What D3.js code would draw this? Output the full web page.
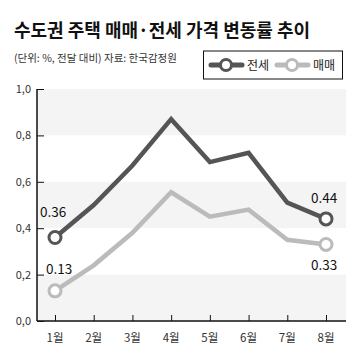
<!DOCTYPE html>
<html><head><meta charset="utf-8">
<script src="https://cdn.jsdelivr.net/npm/d3@7"></script>
<style>body{margin:0;background:#fff;}svg{display:block;font-family:"Noto Sans CJK KR","Noto Sans",sans-serif;}</style>
</head><body>
<script>
const months = ["1월","2월","3월","4월","5월","6월","7월","8월"];
const jeonse = [0.36,0.50,0.67,0.87,0.685,0.725,0.51,0.44];
const maemae = [0.13,0.24,0.38,0.555,0.45,0.48,0.35,0.33];
const yTicks = [0,0.2,0.4,0.6,0.8,1.0];
const yTickLabels = ["0,0","0,2","0,4","0,6","0,8","1,0"];
const title = "수도권 주택 매매·전세 가격 변동률 추이";
const subtitle = "(단위: %, 전달 대비) 자료: 한국감정원";

(function(){
const W=356,H=360;
const svg=d3.select("body").append("svg").attr("width",W).attr("height",H);
const pL=37,pR=346,pT=89,pB=321;
const x=d3.scalePoint().domain(months).range([55,326]);
const y=d3.scaleLinear().domain([0,1]).range([pB,pT]);

svg.append("text").attr("x",14).attr("y",37).attr("font-size",18).attr("font-weight","bold").attr("fill","#111").text(title);
svg.append("text").attr("x",14).attr("y",62).attr("font-size",10.5).attr("fill","#333").text(subtitle);

// bands
[[0,0.2],[0.4,0.6],[0.8,1.0]].forEach(b=>{
  svg.append("rect").attr("x",pL).attr("y",y(b[1])).attr("width",pR-pL).attr("height",y(b[0])-y(b[1])).attr("fill","#f4f4f4");
});

// y axis
const ya=svg.append("g").attr("transform",`translate(${pL},0)`)
  .call(d3.axisRight(y).tickValues(yTicks).tickSize(7).tickFormat(()=>""));
ya.select(".domain").attr("stroke","#111").attr("stroke-width",1.5).attr("d",`M0,${pT}V${pB}`);
ya.selectAll(".tick line").attr("stroke","#111").attr("stroke-width",1);
yTicks.forEach((t,i)=>{
  svg.append("text").attr("x",31).attr("y",y(t)+4).attr("text-anchor","end").attr("font-size",11).attr("fill","#333").text(yTickLabels[i]);
});

// x axis
const xa=svg.append("g").attr("transform",`translate(0,${pB})`)
  .call(d3.axisTop(x).tickSize(6).tickFormat(()=>""));
xa.select(".domain").attr("stroke","#111").attr("stroke-width",1.5).attr("d",`M${pL},0H${pR}`);
xa.selectAll(".tick line").attr("stroke","#111");
months.forEach(m=>{
  svg.append("text").attr("x",x(m)).attr("y",342).attr("text-anchor","middle").attr("font-size",11.5).attr("fill","#333").text(m);
});

const line=d3.line().x((d,i)=>x(months[i])).y(d=>y(d));
function series(vals,color){
  svg.append("path").datum(vals).attr("d",line).attr("fill","none").attr("stroke",color).attr("stroke-width",4.5).attr("stroke-linejoin","miter");
  [0,vals.length-1].forEach(i=>{
    svg.append("circle").attr("cx",x(months[i])).attr("cy",y(vals[i])).attr("r",6).attr("fill","#fff").attr("stroke",color).attr("stroke-width",3);
  });
}
series(maemae,"#bbbbbb");
series(jeonse,"#555555");

// value labels
const lab=(t,xx,yy)=>svg.append("text").attr("x",xx).attr("y",yy).attr("font-size",13.5).attr("fill","#111").text(t);
lab(jeonse[0].toFixed(2),40,217);
lab(maemae[0].toFixed(2),46,274);
lab(jeonse[7].toFixed(2),311,203);
lab(maemae[7].toFixed(2),311,270);

// legend
svg.append("rect").attr("x",203.5).attr("y",51).attr("width",139).attr("height",28).attr("fill","#fff").attr("stroke","#111").attr("stroke-width",1);
function legendItem(x0,color,text){
  svg.append("line").attr("x1",x0).attr("x2",x0+31).attr("y1",65).attr("y2",65).attr("stroke",color).attr("stroke-width",5).attr("stroke-linecap","round");
  svg.append("circle").attr("cx",x0+15).attr("cy",65).attr("r",5.5).attr("fill","#fff").attr("stroke",color).attr("stroke-width",3);
  svg.append("text").attr("x",x0+36).attr("y",69.5).attr("font-size",12).attr("fill","#222").text(text);
}
legendItem(211,"#555555","전세");
legendItem(277,"#bbbbbb","매매");
})();
</script>
</body></html>
